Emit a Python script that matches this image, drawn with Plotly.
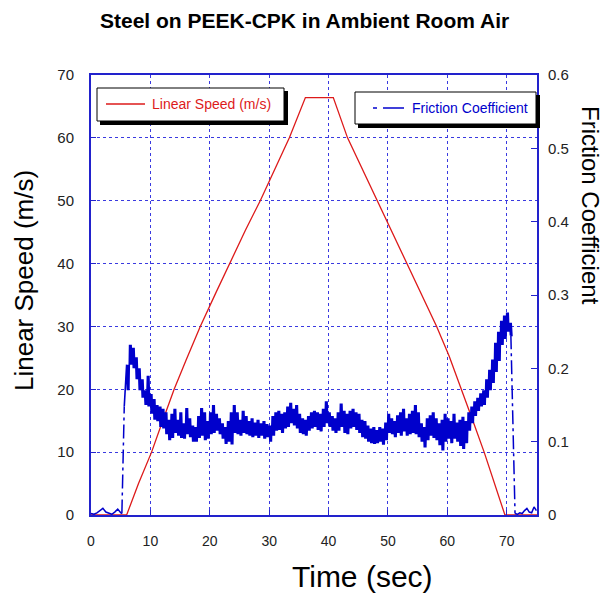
import plotly.graph_objects as go

# ---------------- data ----------------
speed_t = [0, 6.0, 8.0, 10.2, 12.0, 14.0, 16.0, 18.4, 21.0, 23.5, 26.0, 28.5, 31.0, 33.4, 36.1,
           38.5, 40.8, 43.2, 45.5, 48.2, 51.0, 53.3, 54.6, 56.5, 58.2, 60.3, 62.4, 64.3, 66.2,
           68.0, 69.7, 75.1]
speed_v = [0, 0, 5.0, 10.0, 14.8, 20.0, 24.6, 30.0, 35.3, 40.3, 45.3, 50.0, 55.0, 60.0, 66.4,
           66.4, 66.4, 60.0, 55.4, 50.0, 44.5, 40.0, 37.4, 33.5, 30.0, 25.3, 20.0, 15.0, 10.0,
           5.0, 0, 0]

# friction near zero before sliding starts
fric_start_t = [0, 0.5, 1.0, 1.5, 2.0, 2.5, 3.0, 3.5, 4.0, 4.5, 5.0, 5.2]
fric_start_v = [0.002, 0.001, 0.003, 0.006, 0.009, 0.004, 0.002, 0.001, 0.004, 0.008, 0.003, 0.002]

# jump segments (drawn dashed)
jump_up_t = [5.2, 5.6]
jump_up_v = [0.002, 0.148]
jump_down_t = [70.7, 71.4]
jump_down_v = [0.245, 0.002]

# noisy band while sliding: upper / lower envelope read every 0.5 s
band_t = [6.0 + 0.5 * i for i in range(130)]
band_hi = [0.205, 0.232, 0.228, 0.215, 0.200, 0.185, 0.170, 0.190, 0.165, 0.158,
           0.150, 0.148, 0.145, 0.140, 0.130, 0.138, 0.145, 0.130, 0.140, 0.125,
           0.146, 0.132, 0.122, 0.120, 0.135, 0.146, 0.140, 0.128, 0.140, 0.150,
           0.138, 0.132, 0.125, 0.120, 0.128, 0.140, 0.150, 0.140, 0.130, 0.142,
           0.135, 0.128, 0.132, 0.126, 0.130, 0.125, 0.128, 0.124, 0.122, 0.135,
           0.140, 0.142, 0.138, 0.140, 0.148, 0.153, 0.145, 0.150, 0.138, 0.132,
           0.130, 0.135, 0.140, 0.142, 0.140, 0.138, 0.145, 0.155, 0.140, 0.135,
           0.132, 0.140, 0.152, 0.142, 0.138, 0.142, 0.145, 0.140, 0.138, 0.130,
           0.128, 0.122, 0.118, 0.120, 0.116, 0.120, 0.118, 0.126, 0.138, 0.132,
           0.128, 0.136, 0.140, 0.145, 0.132, 0.138, 0.142, 0.150, 0.140, 0.125,
           0.120, 0.132, 0.136, 0.140, 0.132, 0.125, 0.130, 0.138, 0.132, 0.128,
           0.138, 0.126, 0.130, 0.134, 0.128, 0.140, 0.148, 0.155, 0.160, 0.166,
           0.170, 0.185, 0.198, 0.212, 0.235, 0.250, 0.265, 0.272, 0.276, 0.262]
band_lo = [0.170, 0.205, 0.200, 0.185, 0.170, 0.160, 0.150, 0.148, 0.138, 0.130,
           0.128, 0.120, 0.118, 0.110, 0.102, 0.105, 0.112, 0.108, 0.105, 0.104,
           0.110, 0.106, 0.100, 0.100, 0.105, 0.108, 0.102, 0.104, 0.110, 0.112,
           0.115, 0.110, 0.104, 0.097, 0.100, 0.096, 0.112, 0.110, 0.108, 0.112,
           0.110, 0.108, 0.106, 0.108, 0.105, 0.108, 0.104, 0.106, 0.100, 0.108,
           0.115, 0.116, 0.112, 0.118, 0.120, 0.125, 0.122, 0.118, 0.112, 0.110,
           0.108, 0.115, 0.118, 0.120, 0.116, 0.114, 0.120, 0.125, 0.120, 0.115,
           0.112, 0.115, 0.120, 0.112, 0.110, 0.118, 0.120, 0.116, 0.112, 0.106,
           0.104, 0.100, 0.098, 0.097, 0.098, 0.100, 0.096, 0.102, 0.112, 0.110,
           0.106, 0.112, 0.108, 0.114, 0.108, 0.110, 0.112, 0.110, 0.106, 0.100,
           0.092, 0.102, 0.108, 0.105, 0.102, 0.095, 0.088, 0.100, 0.104, 0.098,
           0.104, 0.100, 0.094, 0.090, 0.098, 0.115, 0.125, 0.135, 0.142, 0.148,
           0.150, 0.160, 0.170, 0.180, 0.195, 0.210, 0.232, 0.240, 0.250, 0.245]

# friction near zero after stop
fric_end_t = [71.4, 71.8, 72.2, 72.6, 73.0, 73.4, 73.8, 74.2, 74.6, 75.0]
fric_end_v = [0.002, 0.001, 0.003, 0.002, 0.006, 0.009, 0.004, 0.003, 0.011, 0.006]

x_ticks = [0, 10, 20, 30, 40, 50, 60, 70]
y_left_ticks = [0, 10, 20, 30, 40, 50, 60, 70]
y_right_ticks = [0, 0.1, 0.2, 0.3, 0.4, 0.5, 0.6]
y_right_text = ["0", "0.1", "0.2", "0.3", "0.4", "0.5", "0.6"]

# ---------------- build the dense noisy band trace ----------------
band_x, band_y = [jump_up_t[-1]], [jump_up_v[-1]]
for t, hi, lo in zip(band_t, band_hi, band_lo):
    for k, v in enumerate((hi, lo, hi, lo)):
        band_x.append(t + 0.125 * k)
        band_y.append(v)
band_x.append(jump_down_t[0])
band_y.append(jump_down_v[0])

RED = "#dd1a1a"
BLUE = "#0000cc"
AXBLUE = "#2222cc"
FONT = "Arial, Liberation Sans, sans-serif"

fig = go.Figure()
fig.add_trace(go.Scatter(x=speed_t, y=speed_v, mode="lines", line=dict(color=RED, width=1.3),
                         yaxis="y", showlegend=False))
fig.add_trace(go.Scatter(x=fric_start_t, y=fric_start_v, mode="lines",
                         line=dict(color=BLUE, width=1.5), yaxis="y2", showlegend=False))
fig.add_trace(go.Scatter(x=jump_up_t, y=jump_up_v, mode="lines",
                         line=dict(color=BLUE, width=1.5, dash="14px,4px,3px,4px"),
                         yaxis="y2", showlegend=False))
fig.add_trace(go.Scatter(x=band_x, y=band_y, mode="lines",
                         line=dict(color=BLUE, width=1.6), yaxis="y2", showlegend=False))
fig.add_trace(go.Scatter(x=jump_down_t, y=jump_down_v, mode="lines",
                         line=dict(color=BLUE, width=1.5, dash="14px,4px,3px,4px"),
                         yaxis="y2", showlegend=False))
fig.add_trace(go.Scatter(x=fric_end_t, y=fric_end_v, mode="lines",
                         line=dict(color=BLUE, width=1.5), yaxis="y2", showlegend=False))

# ---------------- layout ----------------
L, R, T, B = 91, 537, 75, 515
W, H = 612, 594


def px(xp):
    return (xp - L) / (R - L)


def py(yp):
    return (B - yp) / (B - T)


fig.update_layout(
    width=W, height=H,
    margin=dict(l=L, r=W - R, t=T, b=H - B),
    paper_bgcolor="white", plot_bgcolor="white",
    font=dict(family=FONT, color="#222"),
    showlegend=False,
    hovermode=False,
    xaxis=dict(range=[0, 75.1], tickvals=x_ticks, ticks="inside", ticklen=5,
               tickcolor=AXBLUE, showline=True, linecolor=AXBLUE, linewidth=2,
               mirror=True, showgrid=True, gridcolor="#3a3ae0", griddash="dot",
               gridwidth=1, zeroline=False, tickfont=dict(size=14, color="#222"),
               ticklabelstandoff=12),
    yaxis=dict(range=[0, 70], tickvals=y_left_ticks, ticks="inside", ticklen=5,
               tickcolor=AXBLUE, showline=True, linecolor=AXBLUE, linewidth=2,
               mirror=True, showgrid=True, gridcolor="#3a3ae0", griddash="dot",
               gridwidth=1, zeroline=False, tickfont=dict(size=15, color="#222"),
               ticklabelstandoff=12),
    yaxis2=dict(range=[0, 0.6], tickvals=y_right_ticks, ticktext=y_right_text,
                overlaying="y", side="right", ticks="inside", ticklen=6,
                tickcolor=AXBLUE, showline=True, linecolor=AXBLUE, linewidth=2,
                showgrid=False, zeroline=False, tickfont=dict(size=15, color="#222"),
                ticklabelstandoff=6),
)

shapes = []
# left legend box with shadow
shapes.append(dict(type="rect", xref="paper", yref="paper", x0=px(100), x1=px(288),
                   y0=py(125), y1=py(91), fillcolor="black", line=dict(width=0)))
shapes.append(dict(type="rect", xref="paper", yref="paper", x0=px(97), x1=px(284),
                   y0=py(121), y1=py(88), fillcolor="white", line=dict(color="black", width=1)))
shapes.append(dict(type="line", xref="paper", yref="paper", x0=px(106), x1=px(145),
                   y0=py(104), y1=py(104), line=dict(color=RED, width=1.5)))
# right legend box with shadow
shapes.append(dict(type="rect", xref="paper", yref="paper", x0=px(358), x1=px(540),
                   y0=py(128), y1=py(95), fillcolor="black", line=dict(width=0)))
shapes.append(dict(type="rect", xref="paper", yref="paper", x0=px(355), x1=px(536),
                   y0=py(124), y1=py(92), fillcolor="white", line=dict(color="black", width=1)))
shapes.append(dict(type="line", xref="paper", yref="paper", x0=px(373), x1=px(377),
                   y0=py(108), y1=py(108), line=dict(color=BLUE, width=1.5)))
shapes.append(dict(type="line", xref="paper", yref="paper", x0=px(383), x1=px(404),
                   y0=py(108), y1=py(108), line=dict(color=BLUE, width=1.5)))
fig.update_layout(shapes=shapes)

ann = []
ann.append(dict(text="<b>Steel on PEEK-CPK in Ambient Room Air</b>", x=px(304), y=py(20),
                xref="paper", yref="paper", showarrow=False, xanchor="center", yanchor="middle",
                font=dict(size=21, color="black", family=FONT)))
ann.append(dict(text="Linear Speed (m/s)", x=px(24), y=py(281), xref="paper", yref="paper",
                showarrow=False, textangle=-90, xanchor="center", yanchor="middle",
                font=dict(size=26, color="black", family=FONT)))
ann.append(dict(text="Friction Coefficient", x=px(590), y=py(205), xref="paper", yref="paper",
                showarrow=False, textangle=90, xanchor="center", yanchor="middle",
                font=dict(size=24, color="black", family=FONT)))
ann.append(dict(text="Time (sec)", x=px(362), y=py(576), xref="paper", yref="paper",
                showarrow=False, xanchor="center", yanchor="middle",
                font=dict(size=30, color="black", family=FONT)))
ann.append(dict(text="Linear Speed (m/s)", x=px(150), y=py(104), xref="paper", yref="paper",
                showarrow=False, xanchor="left", yanchor="middle",
                font=dict(size=14, color=RED, family=FONT)))
ann.append(dict(text="Friction Coefficient", x=px(410), y=py(108), xref="paper", yref="paper",
                showarrow=False, xanchor="left", yanchor="middle",
                font=dict(size=14, color=BLUE, family=FONT)))
fig.update_layout(annotations=ann)

fig.write_html(
    "out.html",
    config={"displayModeBar": False, "staticPlot": True},
    post_script="document.body.style.margin='0';document.body.style.padding='0';"
                "document.documentElement.style.overflow='hidden';",
)
